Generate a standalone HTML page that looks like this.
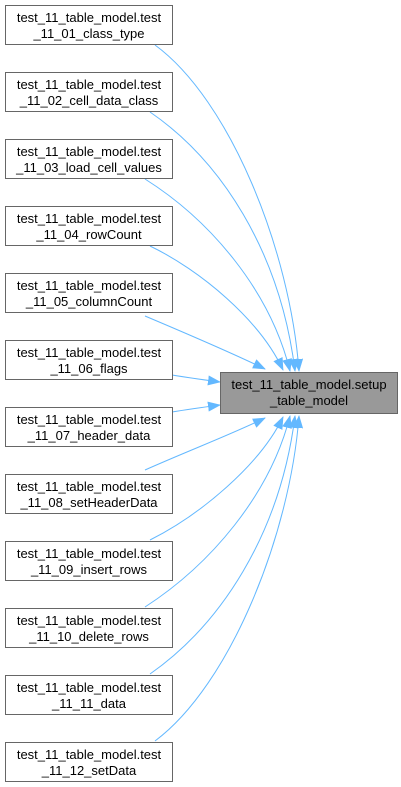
<!DOCTYPE html>
<html><head><style>
body{margin:0;background:#fff;width:401px;height:787px;overflow:hidden}
.n{position:absolute;left:5px;width:166px;border:1px solid #666;background:#fff;font:13px "Liberation Sans",sans-serif;text-align:center;line-height:16px;padding-top:4px;height:34px;color:#000;white-space:nowrap}
</style></head><body>
<svg width="401" height="787" style="position:absolute;left:0;top:0">
<defs><marker id="a" markerWidth="13" markerHeight="10" refX="12" refY="5" orient="auto" markerUnits="userSpaceOnUse"><path d="M0,0L13,5L0,10z" fill="#63b8ff"/></marker></defs>
<g fill="none" stroke="#63b8ff" stroke-width="1" marker-end="url(#a)">
<path d="M155,45C230,100 290,250 299,371"/>
<path d="M150,112C220,160 280,250 295,371"/>
<path d="M145,179C210,220 270,290 290,371"/>
<path d="M150,246C200,270 260,320 283,370"/>
<path d="M145,316C190,335 230,352 265,369"/>
<path d="M172,375C190,378 205,380 220,382"/>
<path d="M172,412C190,409 205,407 220,405"/>
<path d="M145,470C190,450 230,435 265,418"/>
<path d="M150,540C200,515 260,465 283,417"/>
<path d="M145,607C210,565 270,495 290,416"/>
<path d="M150,674C220,625 280,535 295,416"/>
<path d="M155,741C230,685 290,535 299,416"/>
</g>
</svg>
<div class="n" style="top:5px">test_11_table_model.test<br>_11_01_class_type</div>
<div class="n" style="top:72px">test_11_table_model.test<br>_11_02_cell_data_class</div>
<div class="n" style="top:139px">test_11_table_model.test<br>_11_03_load_cell_values</div>
<div class="n" style="top:206px">test_11_table_model.test<br>_11_04_rowCount</div>
<div class="n" style="top:273px">test_11_table_model.test<br>_11_05_columnCount</div>
<div class="n" style="top:340px">test_11_table_model.test<br>_11_06_flags</div>
<div class="n" style="top:407px">test_11_table_model.test<br>_11_07_header_data</div>
<div class="n" style="top:474px">test_11_table_model.test<br>_11_08_setHeaderData</div>
<div class="n" style="top:541px">test_11_table_model.test<br>_11_09_insert_rows</div>
<div class="n" style="top:608px">test_11_table_model.test<br>_11_10_delete_rows</div>
<div class="n" style="top:675px">test_11_table_model.test<br>_11_11_data</div>
<div class="n" style="top:742px">test_11_table_model.test<br>_11_12_setData</div>
<div class="n" style="top:372px;left:220px;width:176px;height:36px;background:#999">test_11_table_model.setup<br>_table_model</div>
</body></html>
